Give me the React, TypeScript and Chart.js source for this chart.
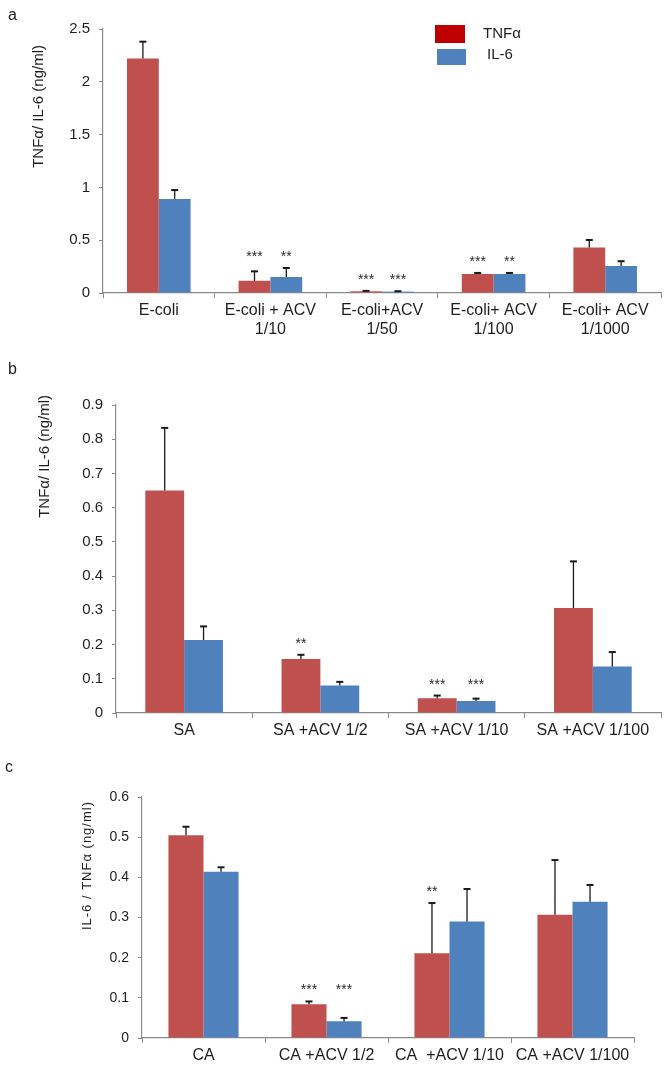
import React, { useEffect, useRef } from "react";
import { Chart, registerables } from "chart.js";
Chart.register(...registerables);

// ---------- Data ----------
const SERIES = ["TNFα", "IL-6"];

const A_CATS = [["E-coli"], ["E-coli + ACV", "1/10"], ["E-coli+ACV", "1/50"], ["E-coli+ ACV", "1/100"], ["E-coli+ ACV", "1/1000"]];
const A_TNF = [2.22, 0.115, 0.016, 0.18, 0.432];
const A_TNF_ERR = [0.16, 0.09, 0.004, 0.01, 0.07];
const A_IL6 = [0.89, 0.152, 0.013, 0.18, 0.256];
const A_IL6_ERR = [0.085, 0.085, 0.004, 0.01, 0.045];
const A_STARS_TNF = ["", "***", "***", "***", ""];
const A_STARS_IL6 = ["", "**", "***", "**", ""];
const A_YTICKS = ["0", "0.5", "1", "1.5", "2", "2.5"];

const B_CATS = ["SA", "SA +ACV 1/2", "SA +ACV 1/10", "SA +ACV 1/100"];
const B_TNF = [0.65, 0.158, 0.043, 0.307];
const B_TNF_ERR = [0.183, 0.012, 0.008, 0.136];
const B_IL6 = [0.213, 0.08, 0.035, 0.136];
const B_IL6_ERR = [0.04, 0.011, 0.007, 0.042];
const B_STARS_TNF = ["", "**", "***", ""];
const B_STARS_IL6 = ["", "", "***", ""];
const B_YTICKS = ["0", "0.1", "0.2", "0.3", "0.4", "0.5", "0.6", "0.7", "0.8", "0.9"];

const C_CATS = ["CA", "CA +ACV 1/2", "CA  +ACV 1/10", "CA +ACV 1/100"];
const C_TNF = [0.505, 0.084, 0.211, 0.307];
const C_TNF_ERR = [0.021, 0.007, 0.125, 0.136];
const C_IL6 = [0.414, 0.042, 0.29, 0.339];
const C_IL6_ERR = [0.011, 0.008, 0.081, 0.042];
const C_STARS_TNF = ["", "***", "**", ""];
const C_STARS_IL6 = ["", "***", "", ""];
const C_YTICKS = ["0", "0.1", "0.2", "0.3", "0.4", "0.5", "0.6"];

// ---------- Styles ----------
const FONT = "'Liberation Sans', Arial, Helvetica, sans-serif";
const RED = "#C0504D";
const BLUE = "#4F81BD";
const LEG_RED = "#C00000";
const LEG_BLUE = "#4F81BD";
const AXIS = "#8a8a8a";
const TXT = "#1e1e1e";

type Spec = {
  letter: string; letterX: number; letterY: number;
  top: number; h: number;
  left: number; right: number; plotTop: number; plotBottom: number;
  yMax: number; step: number; yTicks: string[];
  cats: any[]; tnf: number[]; il6: number[]; errs: number[][]; stars: string[][];
  title: string; titleX: number; titleTop: number; titleSize: number; titleSpacing: number;
  tickSize: number; catSize: number; legend: boolean;
};

const SPECS: Spec[] = [
  {
    letter: "a", letterX: 8, letterY: 8, top: 0, h: 340,
    left: 103, right: 661, plotTop: 29, plotBottom: 293,
    yMax: 2.5, step: 0.5, yTicks: A_YTICKS,
    cats: A_CATS, tnf: A_TNF, il6: A_IL6, errs: [A_TNF_ERR, A_IL6_ERR], stars: [A_STARS_TNF, A_STARS_IL6],
    title: "TNFα/ IL-6 (ng/ml)", titleX: 39, titleTop: 45, titleSize: 15, titleSpacing: 0,
    tickSize: 15, catSize: 16, legend: true,
  },
  {
    letter: "b", letterX: 8, letterY: 22, top: 340, h: 405,
    left: 116, right: 661, plotTop: 65, plotBottom: 373,
    yMax: 0.9, step: 0.1, yTicks: B_YTICKS,
    cats: B_CATS, tnf: B_TNF, il6: B_IL6, errs: [B_TNF_ERR, B_IL6_ERR], stars: [B_STARS_TNF, B_STARS_IL6],
    title: "TNFα/ IL-6 (ng/ml)", titleX: 45, titleTop: 55, titleSize: 15, titleSpacing: 0,
    tickSize: 15, catSize: 16, legend: false,
  },
  {
    letter: "c", letterX: 5, letterY: 15, top: 745, h: 321,
    left: 142, right: 634, plotTop: 52, plotBottom: 293,
    yMax: 0.6, step: 0.1, yTicks: C_YTICKS,
    cats: C_CATS, tnf: C_TNF, il6: C_IL6, errs: [C_TNF_ERR, C_IL6_ERR], stars: [C_STARS_TNF, C_STARS_IL6],
    title: "IL-6 / TNFα (ng/ml)", titleX: 87, titleTop: 56, titleSize: 13, titleSpacing: 1,
    tickSize: 14, catSize: 16, legend: false,
  },
];

function makeOverlay(spec: Spec) {
  return {
    id: "overlay",
    afterDatasetsDraw(chart: any) {
      const ctx = chart.ctx as CanvasRenderingContext2D;
      const ys = chart.scales.y;
      ctx.save();
      // error bars
      const tops: number[][] = [[], []];
      chart.data.datasets.forEach((ds: any, di: number) => {
        const meta = chart.getDatasetMeta(di);
        meta.data.forEach((bar: any, i: number) => {
          const v = ds.data[i];
          const e = spec.errs[di][i];
          const x = bar.x;
          const y0 = ys.getPixelForValue(v);
          const y1 = ys.getPixelForValue(v + e);
          tops[di][i] = y1;
          ctx.strokeStyle = "#1a1a1a";
          ctx.lineWidth = 1.3;
          ctx.beginPath();
          ctx.moveTo(x, y0);
          ctx.lineTo(x, y1);
          ctx.stroke();
          ctx.lineWidth = 2;
          ctx.beginPath();
          ctx.moveTo(x - 3.5, y1);
          ctx.lineTo(x + 3.5, y1);
          ctx.stroke();
        });
      });
      // stars
      ctx.fillStyle = "#2a2a2a";
      ctx.font = `14px ${FONT}`;
      ctx.textAlign = "center";
      ctx.textBaseline = "alphabetic";
      const n = spec.tnf.length;
      for (let i = 0; i < n; i++) {
        const both = spec.stars[0][i] && spec.stars[1][i];
        for (let di = 0; di < 2; di++) {
          const s = spec.stars[di][i];
          if (!s) continue;
          const topPx = both ? Math.min(tops[0][i], tops[1][i]) : tops[di][i];
          const bar = chart.getDatasetMeta(di).data[i];
          ctx.fillText(s, bar.x, topPx - 15 + 8);
        }
      }
      // y title
      ctx.save();
      ctx.fillStyle = TXT;
      ctx.font = `${spec.titleSize}px ${FONT}`;
      try { (ctx as any).letterSpacing = `${spec.titleSpacing}px`; } catch (e) {}
      ctx.translate(spec.titleX, spec.titleTop);
      ctx.rotate(-Math.PI / 2);
      ctx.textAlign = "right";
      ctx.textBaseline = "middle";
      ctx.fillText(spec.title, 0, 0);
      ctx.restore();
      // panel letter
      ctx.fillStyle = TXT;
      ctx.font = `16px ${FONT}`;
      ctx.textAlign = "left";
      ctx.textBaseline = "top";
      ctx.fillText(spec.letter, spec.letterX, spec.letterY);
      // legend
      if (spec.legend) {
        ctx.fillStyle = LEG_RED;
        ctx.fillRect(435, 25, 30, 18);
        ctx.fillStyle = LEG_BLUE;
        ctx.fillRect(437, 49, 29, 16);
        ctx.fillStyle = TXT;
        ctx.font = `15px ${FONT}`;
        ctx.textBaseline = "middle";
        ctx.fillText(SERIES[0], 483, 34);
        ctx.fillText(SERIES[1], 487, 55);
      }
      ctx.restore();
    },
  };
}

function Panel({ spec }: { spec: Spec }) {
  const ref = useRef<HTMLCanvasElement>(null);
  useEffect(() => {
    const chart = new Chart(ref.current as HTMLCanvasElement, {
      type: "bar",
      data: {
        labels: spec.cats,
        datasets: [
          { label: SERIES[0], data: spec.tnf, backgroundColor: RED, borderWidth: 0, categoryPercentage: 0.57, barPercentage: 1 },
          { label: SERIES[1], data: spec.il6, backgroundColor: BLUE, borderWidth: 0, categoryPercentage: 0.57, barPercentage: 1 },
        ],
      },
      options: {
        animation: false,
        responsive: false,
        devicePixelRatio: 1,
        layout: { padding: { left: 0, right: 666 - spec.right, top: spec.plotTop, bottom: 0 } },
        plugins: { legend: { display: false }, tooltip: { enabled: false }, title: { display: false } },
        scales: {
          x: {
            grid: { display: true, drawOnChartArea: false, drawTicks: true, tickLength: 5, color: AXIS, offset: true },
            border: { display: true, color: AXIS, width: 1.2 },
            ticks: { color: TXT, font: { family: FONT, size: spec.catSize }, padding: 3, maxRotation: 0, autoSkip: false },
            afterFit: (s: any) => { s.height = spec.h - spec.plotBottom; },
          },
          y: {
            min: 0, max: spec.yMax,
            grid: { display: true, drawOnChartArea: false, drawTicks: true, tickLength: 4, color: AXIS },
            border: { display: true, color: AXIS, width: 1.2 },
            ticks: {
              stepSize: spec.step, color: TXT, font: { family: FONT, size: spec.tickSize }, padding: 9,
              callback: (_v: any, i: number) => spec.yTicks[i],
            },
            afterFit: (s: any) => { s.width = spec.left; },
          },
        },
      } as any,
      plugins: [makeOverlay(spec)],
    });
    return () => chart.destroy();
  }, []);
  return (
    <canvas
      ref={ref}
      width={666}
      height={spec.h}
      style={{ position: "absolute", left: 0, top: spec.top, width: 666, height: spec.h }}
    />
  );
}

export default function App() {
  return (
    <div style={{ position: "fixed", left: 0, top: 0, width: 666, height: 1066, background: "#fff", overflow: "hidden" }}>
      {SPECS.map((s) => (
        <Panel key={s.letter} spec={s} />
      ))}
    </div>
  );
}
